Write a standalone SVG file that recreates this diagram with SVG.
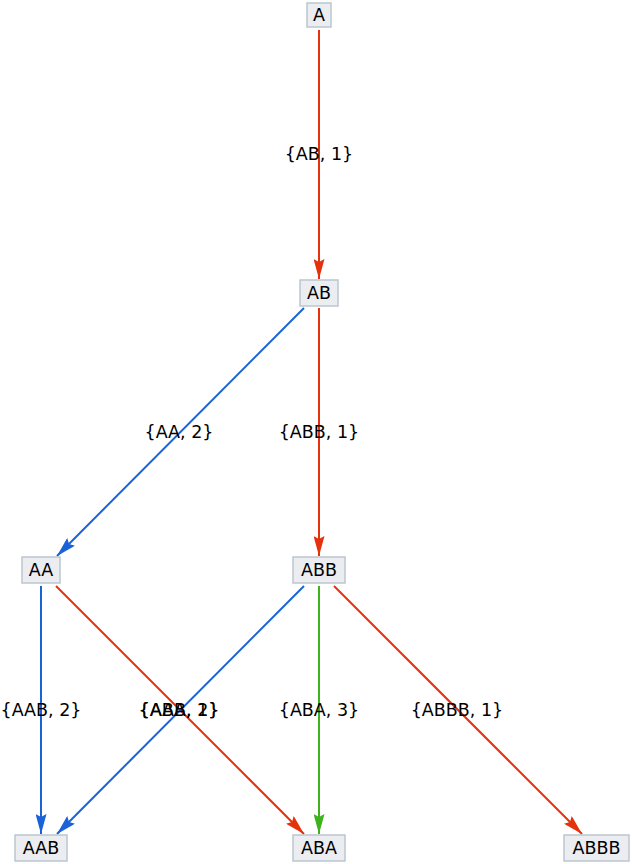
<svg xmlns="http://www.w3.org/2000/svg" width="632" height="864" viewBox="0 0 632 864">
<style>
.n rect{fill:#ebedf1;stroke:#bcc6d0;stroke-width:1.5}
text{font-family:"DejaVu Sans",sans-serif;font-size:17.5px;fill:#000;text-anchor:middle;dominant-baseline:central}
.e{fill:none;stroke-width:2}
.r{stroke:#e5320c}.b{stroke:#1a62d8}.g{stroke:#3fb31c}
</style>
<defs>
<marker id="mr" viewBox="0 0 20 11" refX="20" refY="5.5" markerWidth="20" markerHeight="11" markerUnits="userSpaceOnUse" orient="auto"><path d="M0,0L20,5.5L0,11L3,5.5Z" fill="#e5320c"/></marker>
<marker id="mb" viewBox="0 0 20 11" refX="20" refY="5.5" markerWidth="20" markerHeight="11" markerUnits="userSpaceOnUse" orient="auto"><path d="M0,0L20,5.5L0,11L3,5.5Z" fill="#1a62d8"/></marker>
<marker id="mg" viewBox="0 0 20 11" refX="20" refY="5.5" markerWidth="20" markerHeight="11" markerUnits="userSpaceOnUse" orient="auto"><path d="M0,0L20,5.5L0,11L3,5.5Z" fill="#3fb31c"/></marker>
</defs>
<g id="connectors">
<path class="e r" d="M319,30L319,279" marker-end="url(#mr)"/>
<path class="e b" d="M304,308L57,556" marker-end="url(#mb)"/>
<path class="e r" d="M319,308L319,556" marker-end="url(#mr)"/>
<path class="e b" d="M41,586L41,834" marker-end="url(#mb)"/>
<path class="e r" d="M56,586L304,834" marker-end="url(#mr)"/>
<path class="e b" d="M304,586L57,834" marker-end="url(#mb)"/>
<path class="e g" d="M319,586L319,834" marker-end="url(#mg)"/>
<path class="e r" d="M334,586L582,834" marker-end="url(#mr)"/>
<text x="319" y="154">{AB, 1}</text>
<text x="179" y="432">{AA, 2}</text>
<text x="319" y="432">{ABB, 1}</text>
<text x="41" y="710">{AAB, 2}</text>
<text x="179" y="710">{ABA, 1}</text>
<text x="179" y="710">{AAB, 2}</text>
<text x="319" y="710">{ABA, 3}</text>
<text x="457" y="710">{ABBB, 1}</text>
</g>
<g id="A" class="n"><rect x="307" y="3" width="24" height="24"/><text x="319" y="15">A</text></g>
<g id="AB" class="n"><rect x="300" y="280" width="38" height="26"/><text x="319" y="293">AB</text></g>
<g id="AA" class="n"><rect x="22" y="557" width="38" height="26"/><text x="41" y="570">AA</text></g>
<g id="ABB" class="n"><rect x="293" y="557" width="52" height="26"/><text x="319" y="570">ABB</text></g>
<g id="AAB" class="n"><rect x="15" y="835" width="52" height="26"/><text x="41" y="848">AAB</text></g>
<g id="ABA" class="n"><rect x="293" y="835" width="52" height="26"/><text x="319" y="848">ABA</text></g>
<g id="ABBB" class="n"><rect x="564" y="835" width="65" height="26"/><text x="596.5" y="848">ABBB</text></g>
</svg>
